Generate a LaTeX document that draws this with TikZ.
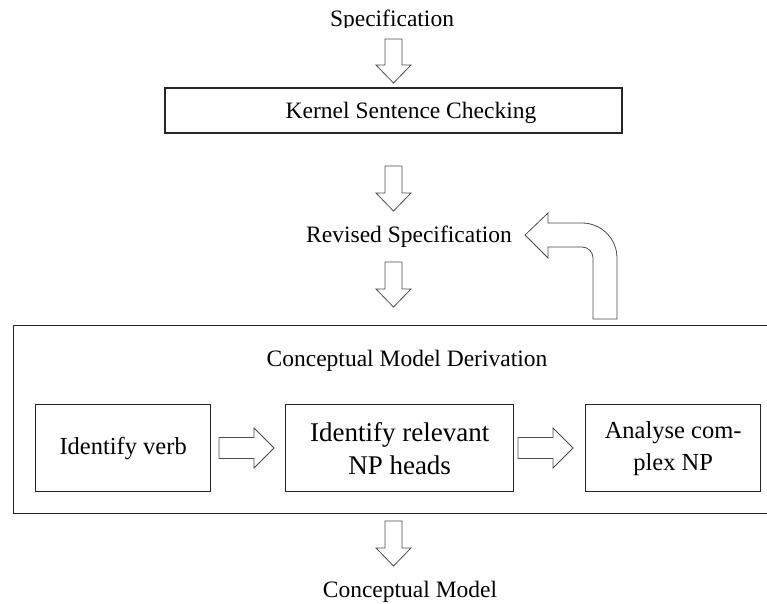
\documentclass[tikz,border=0pt]{standalone}
\usepackage{fontspec}
\setmainfont{Liberation Serif}
\usetikzlibrary{calc}
\tikzset{
  boxline/.style={draw=black!85, line width=1.3pt},
  blkarrow/.style={draw=black!70, line width=0.8pt, fill=white, line join=miter},
  lbl/.style={font=\fontsize{23.5}{28}\selectfont, inner sep=0pt},
  inbox/.style={boxline, minimum height=87pt, inner sep=0pt, align=center, anchor=north west},
  infont/.style={font=\fontsize{24.5}{32}\selectfont},
  bigfont/.style={font=\fontsize{27}{33}\selectfont},
}
% vertical block arrow: #1 top of shaft, #2 tip
\newcommand{\blkdown}[2]{%
  \draw[blkarrow] let \p1=(#1), \p2=(#2) in
    (\x2-8.5pt,\y1) -- (\x2+8.5pt,\y1) -- (\x2+8.5pt,\y2+18pt) -- (\x2+17.5pt,\y2+18pt)
    -- (\x2,\y2) -- (\x2-17.5pt,\y2+18pt) -- (\x2-8.5pt,\y2+18pt) -- cycle;}
% horizontal block arrow: #1 start of shaft, #2 tip
\newcommand{\blkright}[2]{%
  \draw[blkarrow] let \p1=(#1), \p2=(#2) in
    (\x1,\y2+10.5pt) -- (\x2-20pt,\y2+10.5pt) -- (\x2-20pt,\y2+20pt) -- (\x2,\y2)
    -- (\x2-20pt,\y2-20pt) -- (\x2-20pt,\y2-10.5pt) -- (\x1,\y2-10.5pt) -- cycle;}
\begin{document}
\begin{tikzpicture}[x=1pt,y=-1pt]
\path[use as bounding box] (0,0) rectangle (767,603);
\clip (0,0) rectangle (767,603);

% top label (bottom of it is cut off in the reference)
\begin{scope}
  \clip (0,0) rectangle (767,27.5);
  \node[lbl, anchor=base] (spec) at (392,26) {Specification};
\end{scope}

% kernel box
\node[boxline, minimum width=457pt, minimum height=45pt, inner sep=0pt] (kernel) at (393.5,110.5) {};
\node[lbl, anchor=base] (kerneltext) at (411,118) {Kernel Sentence Checking};

% revised specification
\node[lbl, anchor=base] (revised) at (409,242) {Revised Specification};

% big derivation box (right side runs off the picture)
\node[boxline, minimum width=800pt, minimum height=188.5pt, inner sep=0pt, anchor=north west] (cmd) at (12.7,324.5) {};
\node[lbl, anchor=base] (cmdtitle) at (407,366) {Conceptual Model Derivation};

% inner boxes
\node[inbox, minimum width=175pt, infont] (verb) at (35,404) {Identify verb};
\node[inbox, minimum width=228pt, bigfont] (nphead) at (285,404) {Identify relevant\\NP heads};
\node[inbox, minimum width=175pt, infont] (complex) at (585,404) {Analyse com-\\plex NP};

% result
\node[lbl, anchor=base] (model) at (410,597) {Conceptual Model};

% arrow end points
\coordinate (a1s) at (393.5,39);  \coordinate (a1e) at (393.5,83);
\coordinate (a2s) at (393.5,166); \coordinate (a2e) at (393.5,211);
\coordinate (a3s) at (393.5,262); \coordinate (a3e) at (393.5,307);
\coordinate (a4s) at (393.5,521); \coordinate (a4e) at (393.5,566);
\coordinate (h1s) at (219,448);   \coordinate (h1e) at (274,448);
\coordinate (h2s) at (518,448);   \coordinate (h2e) at (573,448);

\blkdown{a1s}{a1e}
\blkdown{a2s}{a2e}
\blkdown{a3s}{a3e}
\blkdown{a4s}{a4e}
\blkright{h1s}{h1e}
\blkright{h2s}{h2e}

% feedback bent arrow from derivation box back to revised specification
\draw[blkarrow] (617,319) -- (617,258)
  .. controls (617,238.7) and (601.3,223) .. (582,223)
  -- (548,223) -- (548,213) -- (525,235) -- (548,258) -- (548,247) -- (582,247)
  .. controls (588.1,247) and (593,251.9) .. (593,258)
  -- (593,319) -- cycle;
\end{tikzpicture}
\end{document}
